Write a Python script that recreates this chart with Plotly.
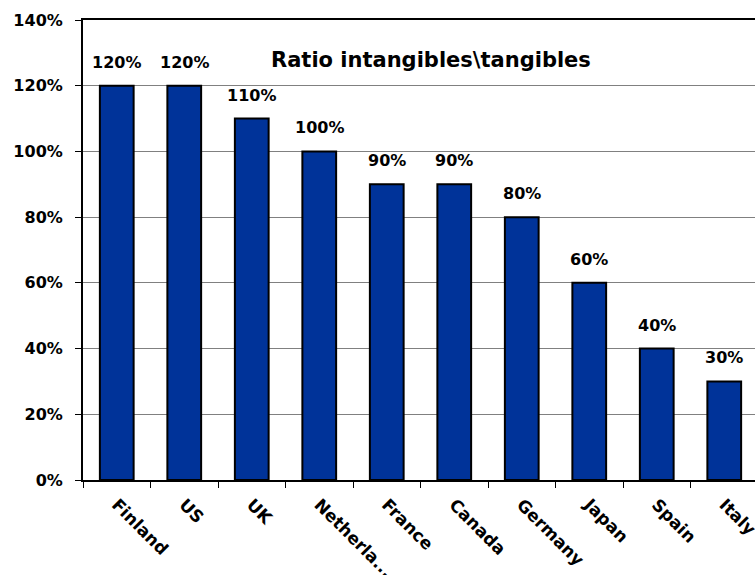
import plotly.graph_objects as go

# Ratio of intangible to tangible investment by country
countries = ["Finland", "US", "UK", "Netherlands", "France",
             "Canada", "Germany", "Japan", "Spain", "Italy"]
tick_labels = ["Finland", "US", "UK", "Netherla...", "France",
               "Canada", "Germany", "Japan", "Spain", "Italy"]
ratios = [1.20, 1.20, 1.10, 1.00, 0.90, 0.90, 0.80, 0.60, 0.40, 0.30]
y_ticks = [0, 0.2, 0.4, 0.6, 0.8, 1.0, 1.2, 1.4]

FONT = "DejaVu Sans"
BAR_BLUE = "#003399"

fig = go.Figure()
fig.add_trace(go.Bar(
    x=countries,
    y=ratios,
    marker=dict(color=BAR_BLUE, line=dict(color="black", width=2)),
    hoverinfo="skip",
))

# value labels above each bar
for c, v in zip(countries, ratios):
    fig.add_annotation(
        x=c, y=v, xref="x", yref="y",
        text=f"<b>{round(v * 100)}%</b>",
        showarrow=False, yanchor="bottom", yshift=12,
        font=dict(family=FONT, size=16, color="black"),
    )

fig.add_annotation(
    x=0.518, y=0.913, xref="paper", yref="paper",
    text="<b>Ratio intangibles\\tangibles</b>",
    showarrow=False, xanchor="center", yanchor="middle",
    font=dict(family=FONT, size=21, color="black"),
)

fig.update_layout(
    width=755, height=575,
    margin=dict(l=83, r=0, t=20, b=95),
    paper_bgcolor="white", plot_bgcolor="white",
    showlegend=False,
    bargap=0.5,
    font=dict(family=FONT, size=16, color="black"),
)

fig.update_xaxes(
    range=[-0.5, 9.5 - 3 / 67.5],
    automargin=False,
    tickmode="array", tickvals=countries,
    ticktext=[f"<b>{t}</b>" for t in tick_labels],
    tickangle=45,
    ticks="outside", ticklen=6, tickwidth=1, tickcolor="black",
    tickson="boundaries",
    ticklabelstandoff=6,
    showline=True, linecolor="black", linewidth=2, mirror=True,
    showgrid=False,
    tickfont=dict(family=FONT, size=17, color="black"),
)

fig.update_yaxes(
    range=[0, 1.4],
    automargin=False,
    tickmode="array", tickvals=y_ticks,
    ticktext=[f"<b>{round(t * 100)}%</b>" for t in y_ticks],
    ticks="outside", ticklen=6, tickwidth=1, tickcolor="black",
    ticklabelstandoff=9,
    showline=True, linecolor="black", linewidth=2, mirror=False,
    showgrid=True, gridcolor="#808080", gridwidth=1,
    zeroline=False,
    tickfont=dict(family=FONT, size=16, color="black"),
)

fig.write_html("out.html")
